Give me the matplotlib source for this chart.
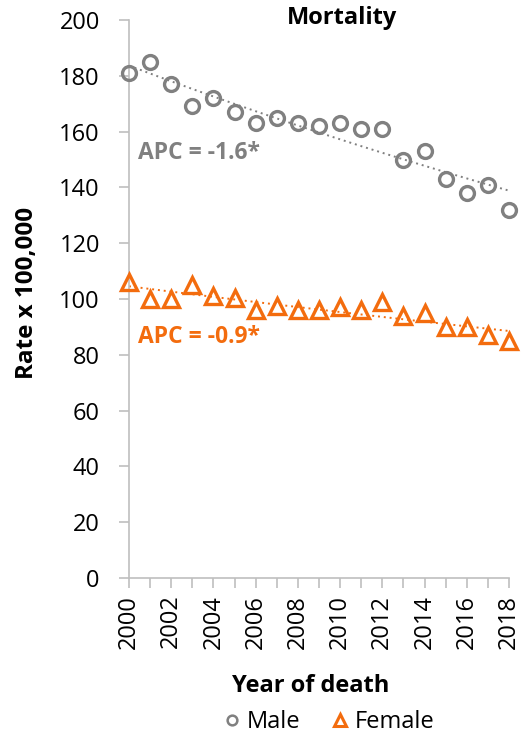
import numpy as np
import matplotlib
matplotlib.use("Agg")
import matplotlib.pyplot as plt
from matplotlib.lines import Line2D

plt.rcParams['font.family'] = ['Open Sans', 'DejaVu Sans']

years = list(range(2000, 2019))
male = [181, 185, 177, 169, 172, 167, 163, 165, 163, 162, 163, 161, 161, 150, 153, 143, 138, 141, 132]
female = [106, 100, 100, 105, 101, 100.5, 96, 97.5, 96, 96, 97, 96, 99, 94, 95, 90, 90, 87, 85]
apc_labels = ["APC = -1.6*", "APC = -0.9*"]
xticks = list(range(2000, 2019, 2))
yticks = list(range(0, 201, 20))

gray = "#808080"
orange = "#F36C0E"
axis_col = "#BFBFBF"

fig = plt.figure(figsize=(5.23, 7.36), dpi=100)
ax = fig.add_axes([129/523, 1-578/736, (509-129)/523, (578-20)/736])

yrs = np.array(years, dtype=float)
for vals, col, mk in [(male, gray, 'o'), (female, orange, '^')]:
    v = np.array(vals, dtype=float)
    b, a = np.polyfit(yrs - 2000, np.log(v), 1)
    xx = np.linspace(2000, 2018, 100)
    ax.plot(xx, np.exp(a + b*(xx-2000)), linestyle=(0, (1, 2)), color=col, lw=1.4, zorder=2)
    ax.plot(years, vals, linestyle='none', marker=mk, markersize=10 if mk == 'o' else 11,
            markerfacecolor='none', markeredgecolor=col, markeredgewidth=2.4, zorder=3, clip_on=False)

ax.set_xlim(2000, 2018)
ax.set_ylim(0, 200)
ax.set_xticks(years, minor=True)
ax.set_xticks(xticks)
ax.set_xticklabels([str(x) for x in xticks], rotation=90, fontsize=17)
ax.set_yticks(yticks)
ax.set_yticklabels([str(y) for y in yticks], fontsize=17)
for s in ['top', 'right']:
    ax.spines[s].set_visible(False)
for s in ['left', 'bottom']:
    ax.spines[s].set_color(axis_col)
    ax.spines[s].set_linewidth(1.2)
ax.tick_params(axis='both', which='both', color=axis_col, width=1.2, length=7)
ax.tick_params(axis='y', pad=14)
ax.tick_params(axis='x', which='major', pad=5)

ax.text(2000.43, 152.3, apc_labels[0], color=gray, fontsize=16.5, fontweight='bold', ha='left', va='center')
ax.text(2000.43, 86.5, apc_labels[1], color=orange, fontsize=16.5, fontweight='bold', ha='left', va='center')

fig.text(342/523, 1-18/736, "Mortality", fontsize=17, fontweight='bold', ha='center', va='center')
fig.text(27/523, 1-293/736, "Rate x 100,000", fontsize=17.5, fontweight='bold', rotation=90, ha='center', va='center')
fig.text(311/523, 1-686/736, "Year of death", fontsize=17, fontweight='bold', ha='center', va='center')

handles = [Line2D([], [], linestyle='none', marker='o', markersize=7, markerfacecolor='none',
                  markeredgecolor=gray, markeredgewidth=1.8, label='Male'),
           Line2D([], [], linestyle='none', marker='^', markersize=8, markerfacecolor='none',
                  markeredgecolor=orange, markeredgewidth=2.2, label='Female')]
fig.legend(handles=handles, loc='center', bbox_to_anchor=(328/523, 1-722/736), ncol=2, frameon=False,
           fontsize=17, handletextpad=0.2, columnspacing=1.2, handlelength=0.9)

fig.savefig("out.png", dpi=100)
